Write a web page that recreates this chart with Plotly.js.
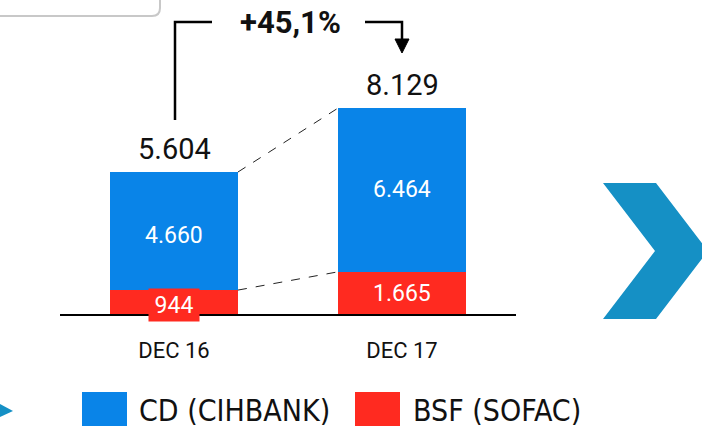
<!DOCTYPE html>
<html>
<head>
<meta charset="utf-8">
<script src="https://cdn.plot.ly/plotly-3.0.1.min.js"></script>
<style>
html,body{margin:0;padding:0;background:#fff;}
#chart{width:702px;height:433px;}
</style>
</head>
<body>
<div id="chart"></div>
<script>
// ---- data ----
const categories = ['DEC 16', 'DEC 17'];
const cdValues = [4660, 6464];      // CD (CIHBANK)
const bsfValues = [944, 1665];      // BSF (SOFAC)
const totals = [5604, 8129];
const seriesNames = ['CD (CIHBANK)', 'BSF (SOFAC)'];

// ---- styles ----
const BLUE = '#0984E8';
const RED = '#FF2A20';
const CHEV = '#1590C5';
const NUMFONT = 'Roboto, "Open Sans", sans-serif';
const LEGFONT = '"Liberation Sans Narrow", "DejaVu Sans Condensed", "Liberation Sans", sans-serif';
const W = 702, H = 433;
const M = {l: 60, r: 186, t: 10, b: 119};
const PW = W - M.l - M.r, PH = H - M.t - M.b;
const BARW = 0.561;

function fmt(v) { return String(v).replace(/\B(?=(\d{3})+(?!\d))/g, '.'); }
// pixel -> paper helpers for decorative shapes
function px(x) { return (x - M.l) / PW; }
function py(y) { return (H - M.b - y) / PH; }
function P(x, y) { return px(x) + ',' + py(y); }

const xs = categories.map((c, i) => i);
const growth = ((totals[1] / totals[0] - 1) * 100).toFixed(1).replace('.', ',');

const traces = [
  {type: 'bar', x: xs, y: bsfValues, name: seriesNames[1], width: BARW,
   marker: {color: RED, line: {width: 0}}, hoverinfo: 'skip'},
  {type: 'bar', x: xs, y: cdValues, name: seriesNames[0], width: BARW,
   marker: {color: BLUE, line: {width: 0}}, hoverinfo: 'skip'}
];

const annotations = [];
xs.forEach((x, i) => {
  annotations.push({x: x, y: totals[i], xref: 'x', yref: 'y', text: fmt(totals[i]),
    showarrow: false, yanchor: 'middle', yshift: 23,
    font: {family: NUMFONT, size: 29, color: '#111'}});
  annotations.push({x: x, y: bsfValues[i] + cdValues[i] / 2, xref: 'x', yref: 'y',
    text: fmt(cdValues[i]), showarrow: false, yanchor: 'middle', yshift: i === 0 ? -4 : 0,
    font: {family: NUMFONT, size: 23, color: '#fff'}});
  const a = {x: x, y: bsfValues[i] / 2, xref: 'x', yref: 'y', text: fmt(bsfValues[i]),
    showarrow: false, yanchor: 'middle', font: {family: NUMFONT, size: 23, color: '#fff'}, yshift: -1};
  if (i === 0) { a.bgcolor = RED; a.width = 46; a.height = 28; a.borderpad = 2; a.yshift = -3; }
  annotations.push(a);
});
// growth label
annotations.push({x: px(290), y: py(22), xref: 'paper', yref: 'paper', text: '+' + growth + '%',
  showarrow: false, xanchor: 'center', yanchor: 'middle',
  font: {family: NUMFONT, size: 31, color: '#111', weight: 'bold'}});
// legend texts
annotations.push({x: px(137), y: py(410), xref: 'paper', yref: 'paper', text: seriesNames[0],
  showarrow: false, xanchor: 'left', yanchor: 'middle', font: {family: LEGFONT, size: 30, color: '#111'}});
annotations.push({x: px(411), y: py(410), xref: 'paper', yref: 'paper', text: seriesNames[1],
  showarrow: false, xanchor: 'left', yanchor: 'middle', font: {family: LEGFONT, size: 30, color: '#111'}});

const shapes = [
  {type: 'line', xref: 'x', yref: 'y', x0: xs[0] + BARW / 2, y0: totals[0], x1: xs[1] - BARW / 2, y1: totals[1],
   line: {color: '#222', width: 1, dash: 'dash'}},
  {type: 'line', xref: 'x', yref: 'y', x0: xs[0] + BARW / 2, y0: bsfValues[0], x1: xs[1] - BARW / 2, y1: bsfValues[1],
   line: {color: '#222', width: 1, dash: 'dash'}},
  {type: 'path', xref: 'paper', yref: 'paper',
   path: 'M' + P(175, 120) + ' L' + P(175, 22) + ' L' + P(212, 22),
   line: {color: '#000', width: 2.5}},
  {type: 'path', xref: 'paper', yref: 'paper',
   path: 'M' + P(365, 22) + ' L' + P(402, 22) + ' L' + P(402, 42),
   line: {color: '#000', width: 2.5}},
  {type: 'path', xref: 'paper', yref: 'paper',
   path: 'M' + P(395, 39) + ' L' + P(409, 39) + ' L' + P(402, 53) + ' Z',
   fillcolor: '#000', line: {color: '#000', width: 1}},
  {type: 'path', xref: 'paper', yref: 'paper',
   path: 'M' + P(603, 183) + ' L' + P(656, 183) + ' L' + P(708, 251) + ' L' + P(656, 319) +
         ' L' + P(603, 319) + ' L' + P(655, 251) + ' Z',
   fillcolor: CHEV, line: {width: 0}},
  {type: 'path', xref: 'paper', yref: 'paper',
   path: 'M' + P(-2, 403) + ' L' + P(13, 411) + ' L' + P(-2, 418) + ' Z',
   fillcolor: CHEV, line: {width: 0}},
  {type: 'path', xref: 'paper', yref: 'paper',
   path: 'M' + P(-2, 16) + ' L' + P(152, 16) + ' Q' + P(160, 16) + ' ' + P(160, 8) + ' L' + P(160, -2),
   line: {color: '#c8c8c8', width: 2}},
  {type: 'rect', xref: 'paper', yref: 'paper', x0: px(82), x1: px(127), y0: py(392), y1: py(426),
   fillcolor: BLUE, line: {width: 0}},
  {type: 'rect', xref: 'paper', yref: 'paper', x0: px(355), x1: px(400), y0: py(392), y1: py(426),
   fillcolor: RED, line: {width: 0}}
];

const layout = {
  width: W, height: H, margin: M,
  paper_bgcolor: '#fff', plot_bgcolor: '#fff',
  barmode: 'stack', showlegend: false,
  xaxis: {range: [-0.5, 1.5], tickvals: xs, ticktext: categories, showline: true,
    linecolor: '#000', linewidth: 2, ticks: '', showgrid: false, zeroline: false,
    ticklabelstandoff: 16, tickfont: {family: NUMFONT, size: 22, color: '#111'}, fixedrange: true},
  yaxis: {range: [0, 12000], visible: false, showgrid: false, zeroline: false, fixedrange: true},
  annotations: annotations, shapes: shapes
};

Plotly.newPlot('chart', traces, layout, {staticPlot: true, displayModeBar: false});
</script>
</body>
</html>
